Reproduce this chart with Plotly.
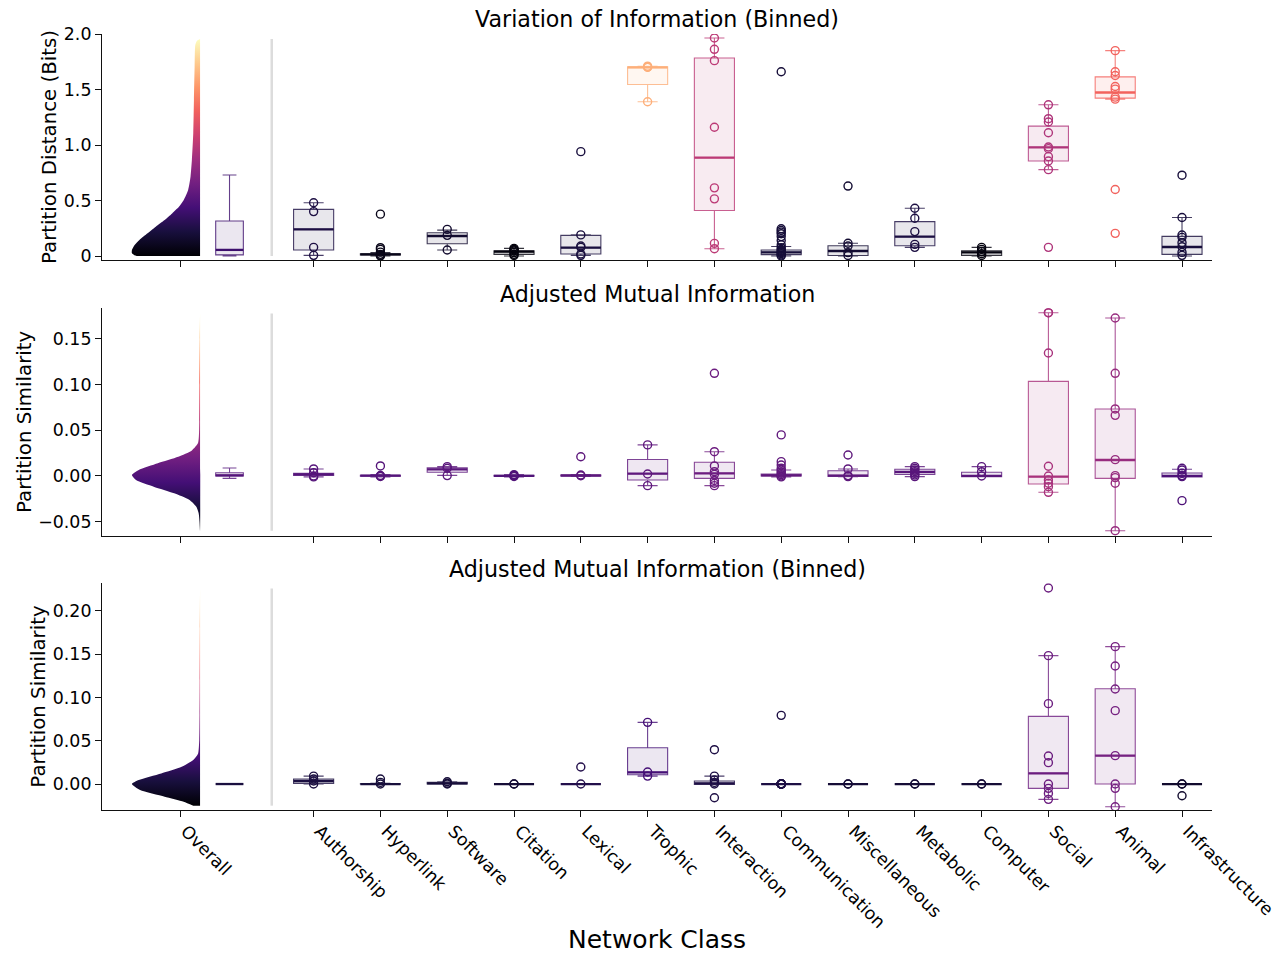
import plotly.graph_objects as go
from plotly.colors import sample_colorscale, unlabel_rgb

# ---------------- data ----------------
categories = ["Authorship", "Hyperlink", "Software", "Citation", "Lexical", "Trophic",
              "Interaction", "Communication", "Miscellaneous", "Metabolic", "Computer",
              "Social", "Animal", "Infrastructure"]
overall_label = "Overall"
panel_titles = ["Variation of Information (Binned)", "Adjusted Mutual Information",
                "Adjusted Mutual Information (Binned)"]
y_titles = ["Partition Distance (Bits)", "Partition Similarity", "Partition Similarity"]
x_title = "Network Class"

# --- Panel 1: Variation of Information (Binned) ---
vi_pts = [
    [0.48, 0.40, 0.078, 0.006],
    [0.377, 0.075, 0.06, 0.035, 0.015, 0.005, 0.0],
    [0.24, 0.186, 0.054],
    [0.069, 0.06, 0.054, 0.045, 0.03, 0.015, 0.005],
    [0.94, 0.19, 0.09, 0.078, 0.018, 0.006],
    [1.71, 1.70, 1.70, 1.39],
    [1.964, 1.862, 1.76, 1.16, 0.614, 0.515, 0.114, 0.066],
    [1.66, 0.245, 0.23, 0.215, 0.2, 0.175, 0.14, 0.1, 0.075, 0.06, 0.05, 0.04, 0.03, 0.02, 0.01, 0.0],
    [0.63, 0.115, 0.09, 0.03, 0.005],
    [0.43, 0.34, 0.22, 0.105, 0.078],
    [0.078, 0.06, 0.04, 0.02, 0.005],
    [1.362, 1.237, 1.207, 1.11, 0.982, 0.967, 0.895, 0.856, 0.778, 0.078],
    [1.85, 1.66, 1.626, 1.527, 1.503, 1.431, 1.413, 0.599, 0.204],
    [0.728, 0.347, 0.189, 0.168, 0.12, 0.084, 0.033, 0.006],
]
vi_q1 = [0.054, 0.010, 0.11, 0.015, 0.018, 1.545, 0.41, 0.012, 0.005, 0.093, 0.006, 0.856, 1.422, 0.015]
vi_med = [0.24, 0.015, 0.18, 0.039, 0.075, 1.70, 0.886, 0.033, 0.045, 0.174, 0.033, 0.979, 1.473, 0.081]
vi_q3 = [0.42, 0.020, 0.21, 0.048, 0.186, 1.705, 1.784, 0.054, 0.093, 0.31, 0.048, 1.17, 1.614, 0.177]
vi_lo = [0.006, 0.0, 0.054, 0.0, 0.006, 1.39, 0.066, 0.0, 0.0, 0.078, 0.0, 0.778, 1.413, 0.0]
vi_hi = [0.48, 0.03, 0.233, 0.069, 0.19, 1.71, 1.964, 0.085, 0.115, 0.43, 0.078, 1.362, 1.85, 0.347]
vi_kde_y = [0.0, 0.006, 0.024, 0.054, 0.099, 0.144, 0.204, 0.264, 0.324, 0.384, 0.444, 0.505,
            0.595, 0.714, 0.865, 1.105, 1.405, 1.70, 1.90, 1.94, 1.955]
vi_kde_w = [0.93, 0.96, 1.0, 1.0, 0.96, 0.89, 0.77, 0.65, 0.52, 0.41, 0.31, 0.24,
            0.175, 0.14, 0.12, 0.1, 0.09, 0.08, 0.07, 0.045, 0.0]

# --- Panel 2: Adjusted Mutual Information ---
ami_pts = [
    [0.0077, 0.0036, 0.0, -0.001],
    [0.011, 0.0005, 0.0, -0.0005],
    [0.0102, 0.0085, 0.0004],
    [0.0015, 0.0005, 0.0, -0.0005],
    [0.021, 0.001, 0.0003],
    [0.034, 0.0022, -0.0106],
    [0.1124, 0.0266, 0.011, 0.0047, 0.0018, -0.005, -0.008, -0.0106],
    [0.045, 0.0157, 0.012, 0.0084, 0.0066, 0.0047, 0.003, 0.0015, 0.0, -0.001],
    [0.023, 0.0077, 0.0004, -0.0007],
    [0.0102, 0.0084, 0.0066, 0.0047, 0.0029, 0.0011, -0.0007],
    [0.0102, 0.0047, 0.0],
    [0.1788, 0.1788, 0.1347, 0.0106, 0.0, -0.0044, -0.008, -0.0117, -0.0179],
    [0.173, 0.1124, 0.0734, 0.0664, 0.0179, 0.0004, -0.0018, -0.008, -0.0599],
    [0.0084, 0.0066, 0.0029, 0.0004, -0.0007, -0.027],
]
ami_q1 = [0.0007, -0.0002, 0.004, -0.0003, 0.0, -0.0044, -0.0026, 0.0, -0.0004, 0.0018, -0.0007, -0.0088, -0.0026, -0.0011]
ami_med = [0.0018, 0.0003, 0.0073, 0.0002, 0.0005, 0.0026, 0.0029, 0.0007, 0.0004, 0.0044, 0.0, -0.0007, 0.0175, 0.0]
ami_q3 = [0.0029, 0.0008, 0.009, 0.0007, 0.001, 0.018, 0.015, 0.0022, 0.0058, 0.0073, 0.004, 0.1036, 0.0734, 0.0033]
ami_lo = [-0.001, -0.001, 0.0007, -0.001, -0.0005, -0.0106, -0.0106, -0.001, -0.0007, -0.0007, -0.0007, -0.0179, -0.0599, -0.0011]
ami_hi = [0.0077, 0.0015, 0.0102, 0.0015, 0.0015, 0.034, 0.0266, 0.0066, 0.0077, 0.0102, 0.0102, 0.1788, 0.173, 0.0073]
ami_kde_y = [-0.060, -0.05, -0.041, -0.0336, -0.026, -0.019, -0.0117, -0.0044, 0.001, 0.0066,
             0.014, 0.021, 0.028, 0.036, 0.047, 0.06, 0.10, 0.15, 0.178]
ami_kde_w = [0.0, 0.008, 0.02, 0.055, 0.16, 0.38, 0.68, 0.94, 1.0, 0.9,
             0.62, 0.32, 0.12, 0.03, 0.015, 0.012, 0.01, 0.006, 0.0]

# --- Panel 3: Adjusted Mutual Information (Binned) ---
amib_pts = [
    [0.0092, 0.0058, 0.0035, 0.0],
    [0.0058, 0.0019, 0.0],
    [0.0027, 0.001, 0.0],
    [0.0, 0.0],
    [0.0197, 0.0],
    [0.0713, 0.0139, 0.0092],
    [0.0397, 0.0092, 0.0046, 0.0019, 0.0, -0.0158],
    [0.0794, 0.0, 0.0, 0.0, 0.0, 0.0, 0.0, 0.0, 0.0, 0.0, 0.0, 0.0, 0.0],
    [0.0, 0.0],
    [0.0, 0.0],
    [0.0, 0.0],
    [0.2266, 0.1484, 0.0929, 0.0324, 0.0247, 0.0, -0.005, -0.0108, -0.0177],
    [0.1588, 0.1364, 0.1098, 0.0848, 0.0328, 0.0, -0.005, -0.0262],
    [0.0, 0.0, -0.0135],
]
amib_q1 = [0.0008, 0.0, 0.0, 0.0, 0.0, 0.0108, -0.0004, 0.0, 0.0, 0.0, 0.0, -0.005, 0.0, 0.0]
amib_med = [0.0035, 0.0, 0.0008, 0.0, 0.0, 0.0135, 0.0008, 0.0, 0.0, 0.0, 0.0, 0.0123, 0.0328, 0.0]
amib_q3 = [0.0058, 0.0004, 0.0019, 0.0, 0.0, 0.042, 0.0035, 0.0, 0.0, 0.0, 0.0, 0.0782, 0.1102, 0.0]
amib_lo = [0.0, 0.0, 0.0, 0.0, 0.0, 0.0092, -0.0004, 0.0, 0.0, 0.0, 0.0, -0.0177, -0.0262, 0.0]
amib_hi = [0.0092, 0.001, 0.0027, 0.0, 0.0, 0.0713, 0.0092, 0.0, 0.0, 0.0, 0.0, 0.1484, 0.1588, 0.0]
amib_kde_y = [-0.025, -0.0204, -0.0146, -0.0069, 0.0, 0.0046, 0.0123, 0.02, 0.0277, 0.035,
              0.051, 0.08, 0.12, 0.18, 0.226]
amib_kde_w = [0.1, 0.24, 0.52, 0.88, 1.0, 0.9, 0.57, 0.27, 0.1, 0.03,
              0.012, 0.008, 0.006, 0.004, 0.0]

# --- Overall boxes (one per panel) ---
overall_q1 = [0.01, 0.0, 0.0]
overall_med = [0.055, 0.0007, 0.0]
overall_q3 = [0.315, 0.0036, 0.0]
overall_lo = [0.0, -0.0026, 0.0]
overall_hi = [0.73, 0.0088, 0.0]
overall_mean = [0.40, 0.002, 0.004]

# y-axis ticks
y_ranges = [[-0.036, 2.0], [-0.0654, 0.1836], [-0.030, 0.232]]
y_tickvals = [[0, 0.5, 1.0, 1.5, 2.0], [-0.05, 0, 0.05, 0.10, 0.15], [0, 0.05, 0.10, 0.15, 0.20]]
y_ticktext = [["0", "0.5", "1.0", "1.5", "2.0"],
              ["\u22120.05", "0.00", "0.05", "0.10", "0.15"],
              ["0.00", "0.05", "0.10", "0.15", "0.20"]]

# ---------------- layout constants ----------------
W, H = 1283, 955
FONT = "DejaVu Sans"
TICK_SIZE = 17.4
X_RANGE = [-1.168, 15.449]
X_DOM = [102 / W, 1212 / W]
Y_DOMS = [[1 - 260 / H, 1 - 34 / H], [1 - 535.7 / H, 1 - 308.3 / H], [1 - 810 / H, 1 - 583.3 / H]]
cat_pos = list(range(2, 2 + len(categories)))
OVERALL_POS = 0
OVERALL_BOX_POS = 0.741
OVERALL_BOX_W = 0.414
SEP_POS = 1.373
VIOLIN_EDGE = 0.30
VIOLIN_SCALE = 1.02
BOX_W = 0.6
AX_COLOR = "#111111"

panels = [
    dict(pts=vi_pts, q1=vi_q1, med=vi_med, q3=vi_q3, lo=vi_lo, hi=vi_hi, ky=vi_kde_y, kw=vi_kde_w),
    dict(pts=ami_pts, q1=ami_q1, med=ami_med, q3=ami_q3, lo=ami_lo, hi=ami_hi, ky=ami_kde_y, kw=ami_kde_w),
    dict(pts=amib_pts, q1=amib_q1, med=amib_med, q3=amib_q3, lo=amib_lo, hi=amib_hi, ky=amib_kde_y, kw=amib_kde_w),
]


def rgba(c, a):
    r, g, b = unlabel_rgb(c)
    return f"rgba({int(r)},{int(g)},{int(b)},{a})"


fig = go.Figure()


def add_box(pos, width, q1, med, q3, lo, hi, color, xa, ya):
    fig.add_trace(go.Box(
        x=[pos], q1=[q1], median=[med], q3=[q3], lowerfence=[lo], upperfence=[hi],
        width=width, whiskerwidth=0.5, boxpoints=False,
        line=dict(color=rgba(color, 0.8), width=1.1), fillcolor=rgba(color, 0.1),
        xaxis=xa, yaxis=ya, showlegend=False, hoverinfo="skip"))
    fig.add_trace(go.Scatter(
        x=[pos - width / 2, pos + width / 2], y=[med, med], mode="lines",
        line=dict(color=color, width=2.3), xaxis=xa, yaxis=ya, showlegend=False, hoverinfo="skip"))


for p, P in enumerate(panels):
    xa = "x" if p == 0 else f"x{p + 1}"
    ya = "y" if p == 0 else f"y{p + 1}"
    lo_v, hi_v = min(P["ky"]), max(P["ky"])

    def col(v):
        t = min(1.0, max(0.0, (v - lo_v) / (hi_v - lo_v)))
        return sample_colorscale("Magma", [t])[0]

    # half violin with vertical magma gradient
    vx = [VIOLIN_EDGE - VIOLIN_SCALE * w for w in P["kw"]] + [VIOLIN_EDGE, VIOLIN_EDGE]
    vy = list(P["ky"]) + [P["ky"][-1], P["ky"][0]]
    fig.add_trace(go.Scatter(
        x=vx, y=vy, mode="lines", fill="toself",
        line=dict(width=0, shape="spline", smoothing=0.6),
        fillgradient=dict(type="vertical", colorscale="Magma", start=lo_v, stop=hi_v),
        xaxis=xa, yaxis=ya, showlegend=False, hoverinfo="skip"))

    # separator line
    fig.add_trace(go.Scatter(
        x=[SEP_POS, SEP_POS], y=[lo_v, hi_v], mode="lines",
        line=dict(color="#dcdcdc", width=2.5), xaxis=xa, yaxis=ya, showlegend=False, hoverinfo="skip"))

    # overall box
    add_box(OVERALL_BOX_POS, OVERALL_BOX_W, overall_q1[p], overall_med[p], overall_q3[p],
            overall_lo[p], overall_hi[p], col(overall_mean[p]), xa, ya)

    # category boxes + points
    for i, cat in enumerate(categories):
        pts = P["pts"][i]
        c = col(sum(pts) / len(pts))
        add_box(cat_pos[i], BOX_W, P["q1"][i], P["med"][i], P["q3"][i], P["lo"][i], P["hi"][i], c, xa, ya)
        fig.add_trace(go.Scatter(
            x=[cat_pos[i]] * len(pts), y=pts, mode="markers",
            marker=dict(symbol="circle-open", size=8, color=c, line=dict(width=1.4, color=c)),
            xaxis=xa, yaxis=ya, showlegend=False, hoverinfo="skip"))

layout = dict(
    template="none",
    width=W, height=H, margin=dict(l=0, r=0, t=0, b=0, autoexpand=False),
    paper_bgcolor="white", plot_bgcolor="white",
    font=dict(family=FONT, size=TICK_SIZE, color="black"),
    showlegend=False, boxmode="overlay",
)
annotations = []
for p in range(3):
    xk = "xaxis" if p == 0 else f"xaxis{p + 1}"
    yk = "yaxis" if p == 0 else f"yaxis{p + 1}"
    layout[xk] = dict(
        domain=X_DOM, range=X_RANGE, anchor="y" if p == 0 else f"y{p + 1}", automargin=False,
        tickmode="array", tickvals=[OVERALL_POS] + cat_pos, ticktext=[overall_label] + categories,
        showticklabels=(p == 2), tickangle=45, ticks="outside", ticklen=6, tickwidth=1.1,
        ticklabelshift=6, ticklabelstandoff=-3,
        tickcolor=AX_COLOR, showline=True, linecolor=AX_COLOR, linewidth=1.1,
        showgrid=False, zeroline=False, tickfont=dict(family=FONT, size=TICK_SIZE, color="black"))
    layout[yk] = dict(
        domain=Y_DOMS[p], range=y_ranges[p], anchor="x" if p == 0 else f"x{p + 1}", automargin=False,
        tickmode="array", tickvals=y_tickvals[p], ticktext=y_ticktext[p],
        ticks="outside", ticklen=6, tickwidth=1.1, tickcolor=AX_COLOR,
        showline=True, linecolor=AX_COLOR, linewidth=1.1, showgrid=False, zeroline=False,
        tickfont=dict(family=FONT, size=TICK_SIZE, color="black"))
    # subplot title
    annotations.append(dict(
        text=panel_titles[p], xref="paper", yref="paper", x=(X_DOM[0] + X_DOM[1]) / 2,
        y=[1 - 18.5 / H, 1 - 294 / H, 1 - 569 / H][p], xanchor="center", yanchor="middle",
        showarrow=False, font=dict(family=FONT, size=22.2, color="black")))
    # y title
    annotations.append(dict(
        text=y_titles[p], xref="paper", yref="paper", x=[49 / W, 24 / W, 39 / W][p],
        y=(Y_DOMS[p][0] + Y_DOMS[p][1]) / 2, xanchor="center", yanchor="middle", textangle=-90,
        showarrow=False, font=dict(family=FONT, size=19.8, color="black")))
annotations.append(dict(
    text=x_title, xref="paper", yref="paper", x=(X_DOM[0] + X_DOM[1]) / 2, y=1 - 939 / H,
    xanchor="center", yanchor="middle", showarrow=False, font=dict(family=FONT, size=25, color="black")))
layout["annotations"] = annotations
fig.update_layout(**layout)

fig.write_html("out.html", config={"displayModeBar": False},
               post_script="document.body.style.margin='0';document.body.style.overflow='hidden';")
